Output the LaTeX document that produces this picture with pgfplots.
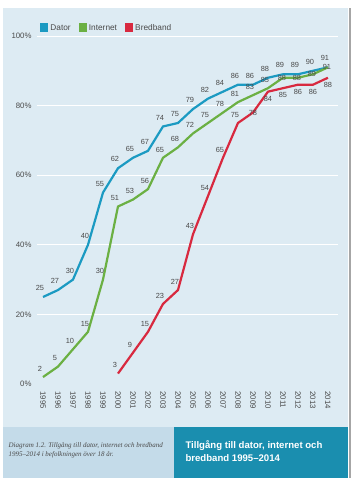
\documentclass[border=0pt]{standalone}
\usepackage{pgfplots}
\pgfplotsset{compat=1.18}
\usepackage{fontspec}
\setmainfont{Liberation Sans}
\newfontfamily\capfont{Liberation Serif}
\definecolor{panel}{HTML}{DDEBF3}
\definecolor{bandl}{HTML}{C4DBE9}
\definecolor{bandr}{HTML}{1A8EAF}
\definecolor{cdator}{HTML}{1B9AC2}
\definecolor{cinternet}{HTML}{6BB043}
\definecolor{cbred}{HTML}{D8293F}
\definecolor{txt}{HTML}{4A4A4A}
\begin{document}
\begin{tikzpicture}[x=1pt,y=1pt]
\fill[white] (0,0) rectangle (352,484);
\fill[panel] (3,57) rectangle (348,476);
\fill[bandl] (3,6) rectangle (174,57);
\fill[bandr] (174,6) rectangle (348,57);
\draw[gray!70,line width=1.2pt] (350,6) -- (350,476);
\node[anchor=west,font=\capfont\itshape\fontsize{7}{9}\selectfont,text=txt,align=left] at (5,34) {Diagram 1.2. Tillgång till dator, internet och bredband\\1995–2014 i befolkningen över 18 år.};
\node[anchor=west,font=\bfseries\fontsize{9.6}{13}\selectfont,text=white,align=left] at (182,33) {Tillgång till dator, internet och\\bredband 1995–2014};
\begin{axis}[
  at={(37pt,100pt)}, anchor=south west,
  scale only axis, width=301pt, height=348pt,
  xmin=1994.6, xmax=2014.67, ymin=0, ymax=100,
  axis line style={draw=none}, major tick length=0pt,
  xtick={1995,...,2014},
  ytick={20,40,60,80,100},
  extra y ticks={0}, extra y tick style={grid=none},
  ymajorgrids, grid style={white, line width=0.9pt},
  /pgf/number format/assume math mode=true,
  /pgf/number format/1000 sep={},
  xticklabel style={rotate=-90, anchor=west, font=\fontsize{7.8}{8}\selectfont, text=txt, xshift=4pt},
  xticklabel={\pgfmathprintnumber[1000 sep={}]{\tick}},
  yticklabel={\pgfmathprintnumber{\tick}\%},
  yticklabel style={font=\fontsize{7.8}{8}\selectfont, text=txt, xshift=-2pt},
  every node near coord/.append style={font=\fontsize{7.4}{8}\selectfont, text=txt},
  legend style={at={(0.0,1.0)}, anchor=south west, draw=none, fill=none, yshift=0pt,
    legend columns=-1, font=\fontsize{8.3}{9}\selectfont, text=txt,
    /tikz/every even column/.append style={column sep=6pt}},
  legend image code/.code={\fill[#1] (0pt,-3pt) rectangle (6pt,3.5pt);},
]
\addplot[cdator, line width=2.2pt, nodes near coords, every node near coord/.append style={anchor=south, xshift=-3pt, yshift=2pt}] coordinates {
(1995,25)(1996,27)(1997,30)(1998,40)(1999,55)(2000,62)(2001,65)(2002,67)(2003,74)(2004,75)
(2005,79)(2006,82)(2007,84)(2008,86)(2009,86)(2010,88)(2011,89)(2012,89)(2013,90)(2014,91)};
\addlegendentry{Dator}
\addplot[cinternet, line width=2.2pt] coordinates {
(1995,2)(1996,5)(1997,10)(1998,15)(1999,30)(2000,51)(2001,53)(2002,56)(2003,65)(2004,68)
(2005,72)(2006,75)(2007,78)(2008,81)(2009,83)(2010,85)(2011,88)(2012,88)(2013,89)(2014,91)};
\addlegendentry{Internet}
\addplot[cbred, line width=2.2pt] coordinates {
(2000,3)(2001,9)(2002,15)(2003,23)(2004,27)(2005,43)(2006,54)(2007,65)(2008,75)(2009,78)
(2010,84)(2011,85)(2012,86)(2013,86)(2014,88)};
\addlegendentry{Bredband}
% labels
\addplot[draw=none, forget plot, nodes near coords, every node near coord/.append style={anchor=south, xshift=-3pt, yshift=2pt}] coordinates {
(1995,2)(1996,5)(1997,10)(1998,15)(1999,30)(2000,51)(2001,53)(2002,56)(2003,65)(2004,68)
(2005,72)(2006,75)(2007,78)(2008,81)(2009,83)(2010,85)};
\addplot[draw=none, forget plot, nodes near coords, every node near coord/.append style={anchor=center, xshift=-1pt}] coordinates {
(2011,88)(2012,88)(2013,89)(2014,91)};
\addplot[draw=none, forget plot, nodes near coords, every node near coord/.append style={anchor=south, xshift=-3pt, yshift=2pt}] coordinates {
(2000,3)(2001,9)(2002,15)(2003,23)(2004,27)(2005,43)(2006,54)(2007,65)(2008,75)};
\addplot[draw=none, forget plot, nodes near coords, every node near coord/.append style={anchor=center, xshift=0pt}] coordinates {
(2009,78)};
\addplot[draw=none, forget plot, nodes near coords, every node near coord/.append style={anchor=north, xshift=0pt, yshift=-1pt}] coordinates {
(2010,84)(2011,85)(2012,86)(2013,86)(2014,88)};
\end{axis}
\end{tikzpicture}
\end{document}
